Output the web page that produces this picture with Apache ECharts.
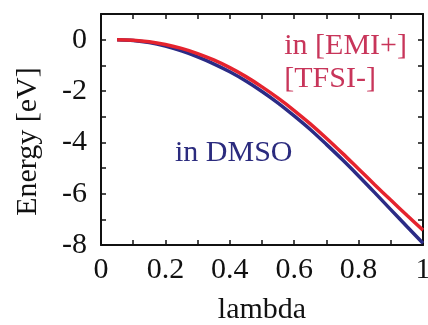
<!DOCTYPE html>
<html>
<head>
<meta charset="utf-8">
<script src="https://cdn.jsdelivr.net/npm/echarts@6/dist/echarts.min.js"></script>
<style>
  html, body { margin: 0; padding: 0; background: #fff; }
  #chart { width: 428px; height: 325px; }
</style>
</head>
<body>
<div id="chart"></div>
<script>
// lambda values and energies
const lambda = [0.05, 0.1, 0.15, 0.2, 0.25, 0.3, 0.35, 0.4, 0.45, 0.5,
  0.55, 0.6, 0.65, 0.7, 0.75, 0.8, 0.85, 0.9, 0.95, 1.0];
const energyEmiTfsi = [0, -0.02, -0.08, -0.19, -0.34, -0.54, -0.79, -1.09, -1.44, -1.84,
  -2.28, -2.76, -3.28, -3.84, -4.43, -5.04, -5.65, -6.25, -6.84, -7.42];
const energyDmso = [0, -0.03, -0.11, -0.25, -0.44, -0.67, -0.94, -1.25, -1.61, -2.02,
  -2.47, -2.97, -3.5, -4.08, -4.68, -5.31, -5.96, -6.62, -7.28, -7.93];

const font = "'Liberation Serif', 'Times New Roman', serif";
const fontSize = 30;

const chart = echarts.init(document.getElementById('chart'));

const frameAxis = {
  axisLine: { show: true, onZero: false, lineStyle: { color: '#111', width: 2 } },
  axisTick: { show: true, inside: true, length: 5, lineStyle: { color: '#111', width: 1.5 } },
  splitLine: { show: false },
};

const option = {
  animation: false,
  grid: { left: 101, right: 5, top: 14, bottom: 80, outerBoundsMode: 'none', containLabel: false },
  xAxis: [
    {
      ...frameAxis,
      type: 'value',
      min: 0,
      max: 1,
      interval: 0.1,
      name: 'lambda',
      nameLocation: 'middle',
      nameGap: 50,
      nameTextStyle: { fontFamily: font, fontSize, color: '#111' },
      axisLabel: {
        margin: 10,
        fontFamily: font,
        fontSize,
        color: '#111',
        formatter: (v) => {
          const t = Math.round(v * 10);
          return t % 2 === 0 ? String(t / 10) : '';
        },
      },
    },
    {
      ...frameAxis,
      type: 'value',
      position: 'top',
      min: 0,
      max: 1,
      interval: 0.1,
      axisLabel: { show: false },
    },
  ],
  yAxis: [
    {
      ...frameAxis,
      type: 'value',
      min: -8,
      max: 1,
      interval: 1,
      name: 'Energy [eV]',
      nameLocation: 'middle',
      nameGap: 58,
      nameTextStyle: { fontFamily: font, fontSize, color: '#111', padding: [0, 0, 0, -24] },
      axisLabel: {
        margin: 14,
        fontFamily: font,
        fontSize,
        color: '#111',
        formatter: (v) => (v <= 0 && v % 2 === 0 ? String(v) : ''),
      },
    },
    {
      ...frameAxis,
      type: 'value',
      position: 'right',
      min: -8,
      max: 1,
      interval: 1,
      axisLabel: { show: false },
    },
  ],
  series: [
    {
      name: 'in DMSO',
      type: 'line',
      showSymbol: false,
      smooth: 0.3,
      lineStyle: { color: '#2b2b86', width: 3.5 },
      data: lambda.map((x, i) => [x, energyDmso[i]]),
    },
    {
      name: 'in [EMI+] [TFSI-]',
      type: 'line',
      showSymbol: false,
      smooth: 0.3,
      lineStyle: { color: '#e5232e', width: 3.5 },
      data: lambda.map((x, i) => [x, energyEmiTfsi[i]]),
    },
  ],
  graphic: [
    {
      type: 'text',
      right: 21,
      top: 30,
      style: {
        text: 'in [EMI+]\n[TFSI-]',
        align: 'right',
        fill: '#c8355a',
        font: fontSize + "px 'Liberation Serif', serif",
        lineHeight: 33,
      },
    },
    {
      type: 'text',
      left: 175,
      top: 138,
      style: {
        text: 'in DMSO',
        fill: '#2b2b7e',
        font: fontSize + "px 'Liberation Serif', serif",
      },
    },
  ],
};

chart.setOption(option);
</script>
</body>
</html>
